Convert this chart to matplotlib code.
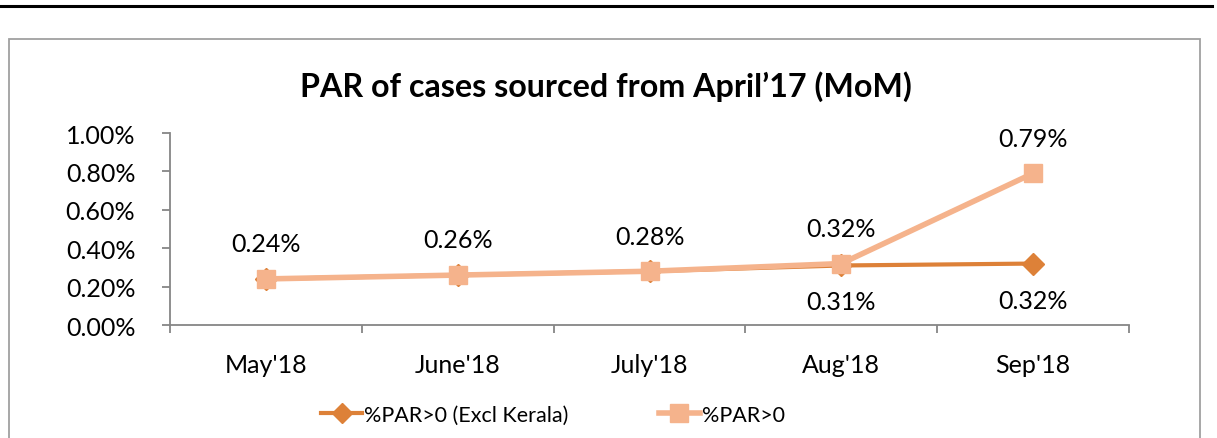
import numpy as np
import matplotlib
matplotlib.use('Agg')
import matplotlib.pyplot as plt
from matplotlib.patches import Rectangle
from matplotlib.lines import Line2D
from matplotlib.ticker import FixedLocator

plt.rcParams['font.family'] = ['Lato', 'DejaVu Sans']

# data
months = ["May'18", "June'18", "July'18", "Aug'18", "Sep'18"]
par_excl_kerala = [0.24, 0.26, 0.28, 0.31, 0.32]
par_all = [0.24, 0.26, 0.28, 0.32, 0.79]
y_ticks = [0.0, 0.2, 0.4, 0.6, 0.8, 1.0]

dark = '#DD8138'
light = '#F5B38C'
grey = '#868686'

W, H = 1217, 439
fig = plt.figure(figsize=(W / 100, H / 100), dpi=100)

# outer decoration: top rule and chart frame
fig.add_artist(Line2D([0, 1212 / W], [1 - 7 / H, 1 - 7 / H], color='black', lw=2.2,
                      transform=fig.transFigure))
fig.add_artist(Rectangle((9 / W, -0.1), (1200 - 9) / W, (H - 40) / H + 0.1,
                         transform=fig.transFigure, fill=False, ec='#A0A0A0', lw=1.3))

ax = fig.add_axes([170 / W, 1 - 326 / H, (1129 - 170) / W, (326 - 134) / H])
x = np.arange(1, len(months) + 1)

ax.plot(x, par_excl_kerala, color=dark, lw=3, marker='D', ms=11, zorder=3)
ax.plot(x, par_all, color=light, lw=4, marker='s', ms=13, zorder=4)

for xi, v in zip(x, par_all):
    ax.annotate(f'{v:.2f}%', (xi, v), xytext=(0, 17), textcoords='offset points',
                ha='center', va='bottom', fontsize=18)
for xi, v in zip(x[3:], par_excl_kerala[3:]):
    ax.annotate(f'{v:.2f}%', (xi, v), xytext=(0, -18), textcoords='offset points',
                ha='center', va='top', fontsize=18)

ax.set_xlim(0.5, len(months) + 0.5)
ax.set_ylim(0, 1.0)
ax.set_yticks(y_ticks)
ax.set_yticklabels([f'{t:.2f}%' for t in y_ticks], fontsize=18)
ax.set_xticks(x)
ax.set_xticklabels(months, fontsize=18)
ax.xaxis.set_minor_locator(FixedLocator(np.arange(0.5, len(months) + 1, 1)))
ax.tick_params(axis='x', which='major', length=0, pad=20)
ax.tick_params(axis='x', which='minor', length=6, color=grey, width=1.3)
ax.tick_params(axis='y', length=6, color=grey, width=1.3, pad=19)

for s in ['top', 'right']:
    ax.spines[s].set_visible(False)
for s in ['left', 'bottom']:
    ax.spines[s].set_color(grey)
    ax.spines[s].set_linewidth(1.3)

fig.text(606 / W, 1 - 87 / H, 'PAR of cases sourced from April\u201917 (MoM)',
         ha='center', va='center', fontsize=23.2, fontweight='bold')

handles = [Line2D([], [], color=dark, lw=3, marker='D', ms=10),
           Line2D([], [], color=light, lw=4, marker='s', ms=13)]
fig.legend(handles, ['%PAR>0 (Excl Kerala)', '%PAR>0'], loc='center',
           bbox_to_anchor=(553 / W, 1 - 416 / H), ncol=2, frameon=False,
           fontsize=15.5, handlelength=1.9, handletextpad=0.1, columnspacing=4.2,
           borderpad=0, borderaxespad=0)

fig.savefig('out.png', dpi=100)
